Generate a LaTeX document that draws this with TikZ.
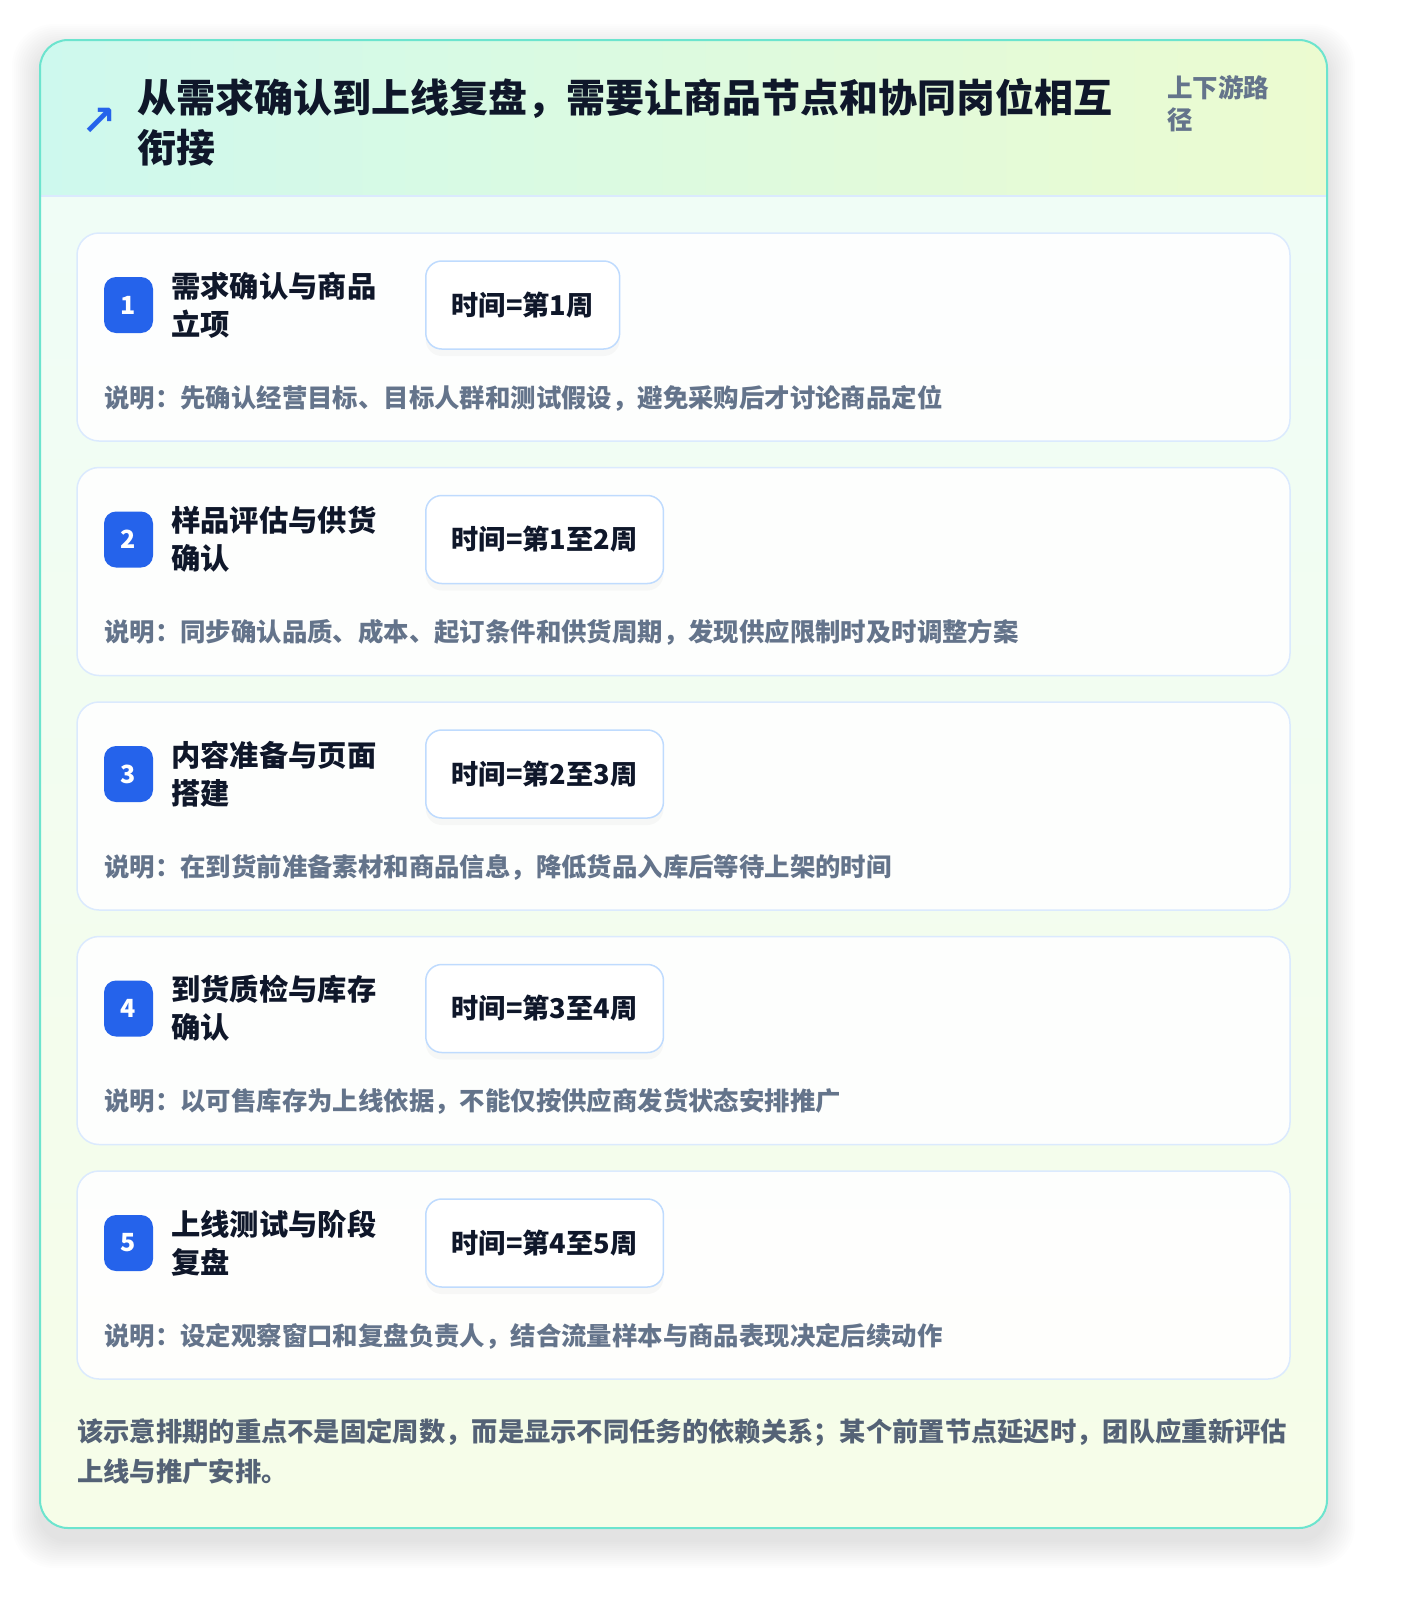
\documentclass[tikz,border=0pt]{standalone}
\usepackage{fontspec}
\setmainfont{Noto Sans CJK SC}
\newfontfamily\symfont{DejaVu Sans}
\usetikzlibrary{positioning, shadows}
\definecolor{frameline}{RGB}{108,228,206}
\definecolor{headleft}{RGB}{206,249,238}
\definecolor{headright}{RGB}{236,251,208}
\definecolor{bodytop}{RGB}{239,253,248}
\definecolor{bodybottom}{RGB}{246,253,232}
\definecolor{cardline}{RGB}{219,234,254}
\definecolor{timeline}{RGB}{191,219,254}
\definecolor{badgeblue}{RGB}{37,99,235}
\definecolor{ink}{RGB}{15,23,42}
\definecolor{muted}{RGB}{100,116,139}
\definecolor{footink}{RGB}{84,98,118}

\begin{document}
\begin{tikzpicture}[
            x=1pt, y=-1pt,
            card/.style={rectangle, draw=cardline, line width=1.5pt, fill=white, fill opacity=.9, text opacity=1, rounded corners=22pt, minimum width=1213pt, minimum height=208pt},
            badge/.style={rectangle, fill=badgeblue, rounded corners=12pt, minimum width=49pt, minimum height=56pt, text=white, font=\fontsize{25pt}{28pt}\selectfont\bfseries},
            stage/.style={anchor=west, align=left, text=ink, inner sep=0pt, font=\fontsize{29.3pt}{38pt}\selectfont\bfseries},
            timebox/.style={rectangle, draw=timeline, line width=1.5pt, fill=white, rounded corners=16pt, anchor=west, minimum height=88pt, inner xsep=26pt, text=ink, font=\fontsize{27.2pt}{30pt}\selectfont\bfseries, drop shadow={opacity=.05, shadow xshift=0pt, shadow yshift=-7pt}},
            note/.style={anchor=west, inner sep=0pt, text=muted, font=\fontsize{25.4pt}{28pt}\selectfont\bfseries}
        ]

        \fill[white] (0,0) rectangle (1400,1606);
        \useasboundingbox (0,0) rectangle (1400,1606);

        % soft shadow of the panel
        \foreach \s in {1,...,14}
            \fill[black, opacity=.007, rounded corners=28pt+\s pt] (40-\s*2,52-\s*2) rectangle (1327+\s*2,1540+\s*2);

        \fill[rounded corners=28pt, top color=bodytop, bottom color=bodybottom] (40,40) rectangle (1327,1528);
        \begin{scope}
            \clip[rounded corners=28pt] (40,40) rectangle (1327,1528);
            \fill[left color=headleft, right color=headright] (40,40) rectangle (1327,196);
        \end{scope}
        \draw[cardline, line width=1.5pt] (41,196) -- (1326,196);
        \draw[frameline, line width=2pt, rounded corners=28pt] (40,40) rectangle (1327,1528);

        \node[text=badgeblue, inner sep=0pt, font=\fontsize{42pt}{42pt}\symfont\bfseries] (icon) at (99,122) {↗};
        \node[anchor=west, align=left, text=ink, inner sep=0pt, font=\fontsize{39pt}{50pt}\selectfont\bfseries] (title) at (137,122) {从需求确认到上线复盘，需要让商品节点和协同岗位相互\\衔接};
        \node[anchor=west, align=left, text=muted, inner sep=0pt, font=\fontsize{25.5pt}{32pt}\selectfont\bfseries] (scope) at (1167,104) {上下游路\\径};

        \foreach \i/\name/\time/\desc [evaluate=\i as \y using {305+234.5*(\i-1)}] in {
            1/{需求确认与商品\\立项}/{时间=第1周}/{说明：先确认经营目标、目标人群和测试假设，避免采购后才讨论商品定位},
            2/{样品评估与供货\\确认}/{时间=第1至2周}/{说明：同步确认品质、成本、起订条件和供货周期，发现供应限制时及时调整方案},
            3/{内容准备与页面\\搭建}/{时间=第2至3周}/{说明：在到货前准备素材和商品信息，降低货品入库后等待上架的时间},
            4/{到货质检与库存\\确认}/{时间=第3至4周}/{说明：以可售库存为上线依据，不能仅按供应商发货状态安排推广},
            5/{上线测试与阶段\\复盘}/{时间=第4至5周}/{说明：设定观察窗口和复盘负责人，结合流量样本与商品表现决定后续动作}} {
            \node[card] (card\i) at (683.5,\y+32) {};
            \node[badge] (badge\i) at (128.5,\y) {\i};
            \node[stage] (stage\i) at (171,\y) {\name};
            \node[timebox] (time\i) at (425,\y) {\time};
            \node[note] (note\i) at (104,\y+93) {\desc};
        }

        \node[anchor=west, align=left, text=footink, inner sep=0pt, font=\fontsize{26.3pt}{40pt}\selectfont\bfseries] (summary) at (77,1452) {该示意排期的重点不是固定周数，而是显示不同任务的依赖关系；某个前置节点延迟时，团队应重新评估\\上线与推广安排。};

        \end{tikzpicture}
\end{document}
